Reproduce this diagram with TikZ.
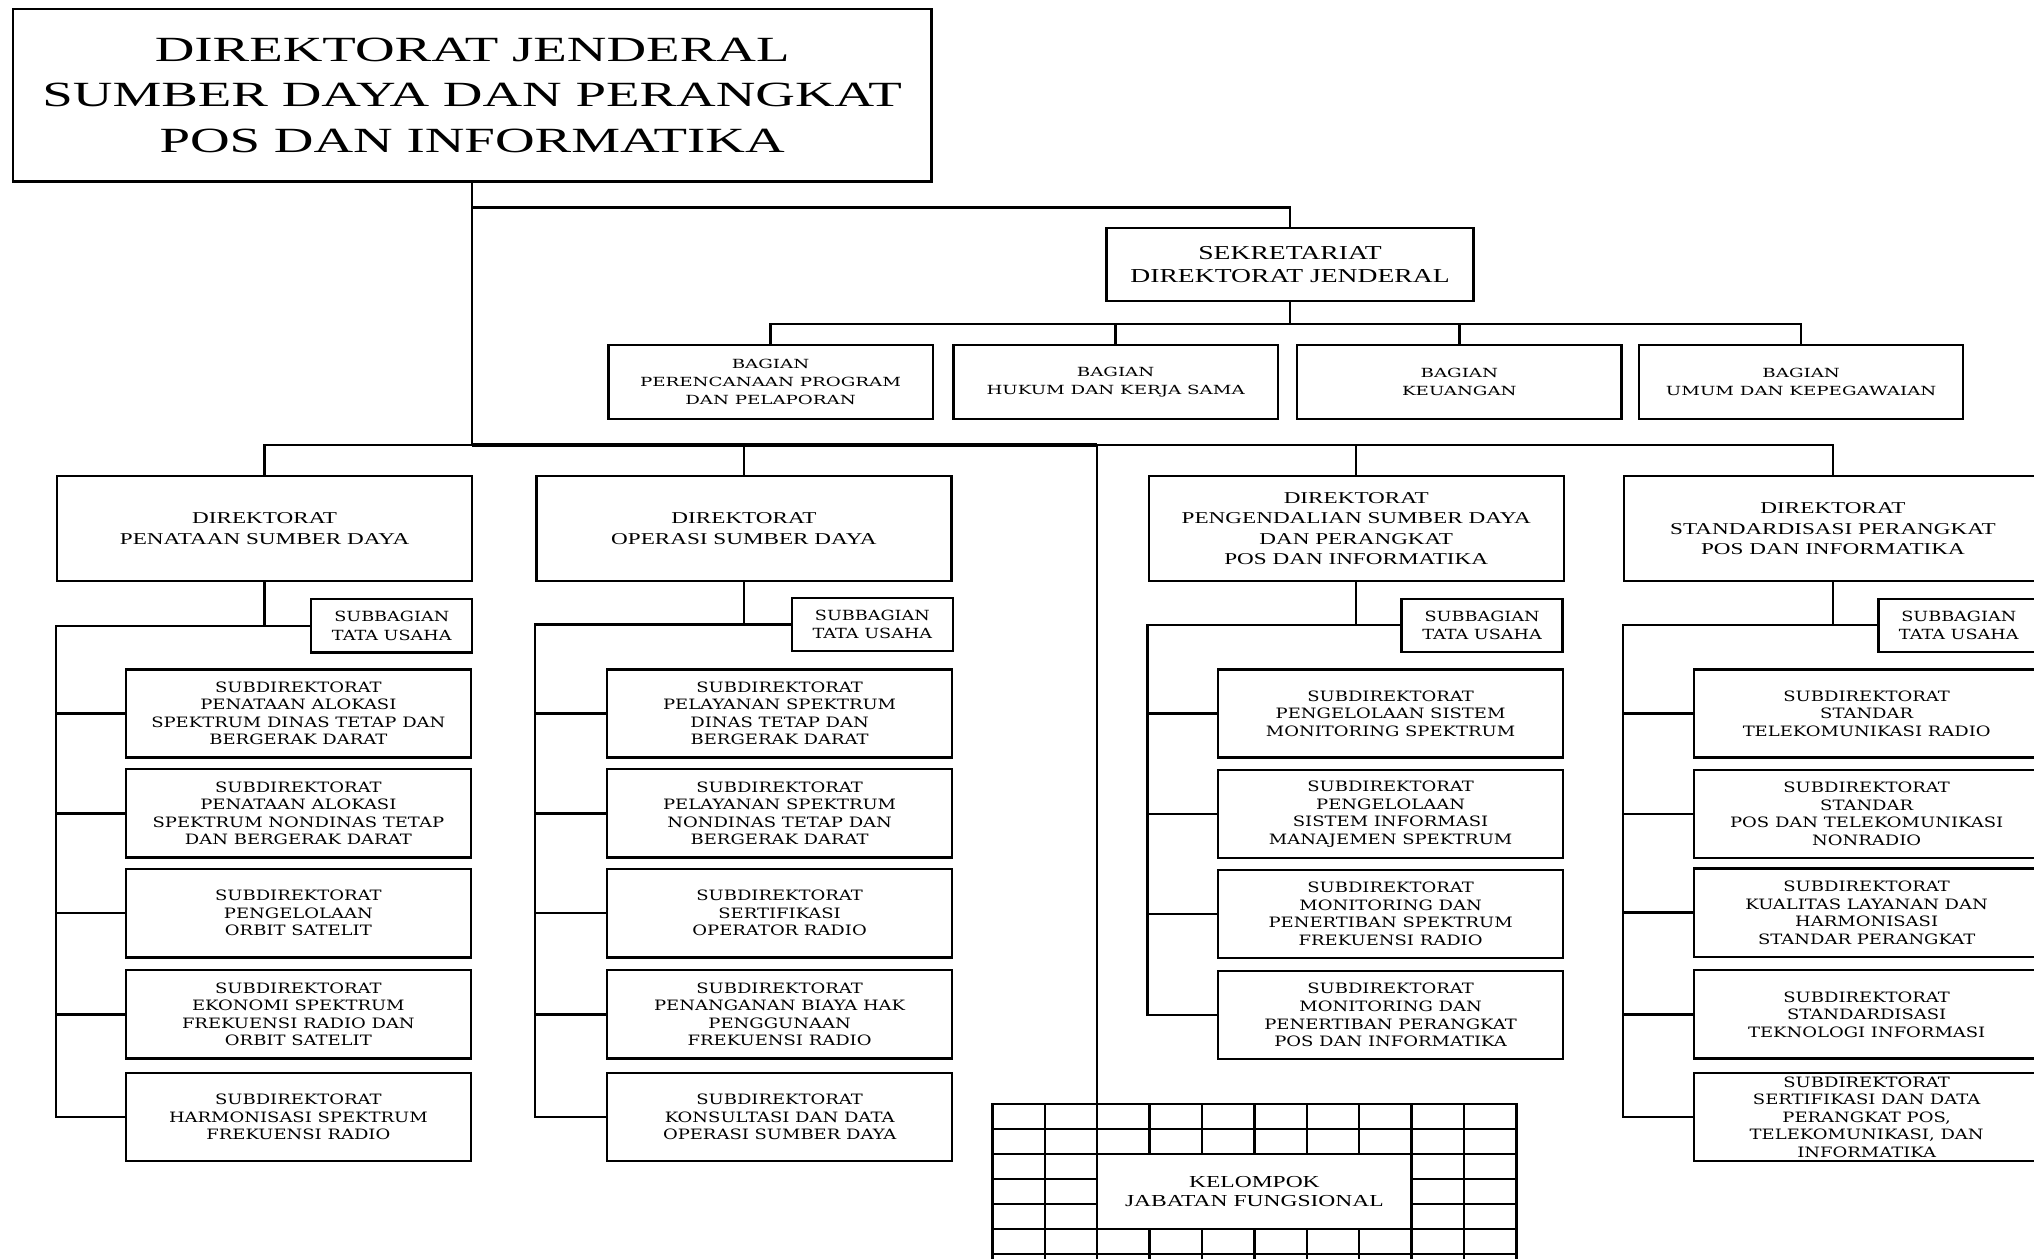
\documentclass[tikz,border=0pt]{standalone}
\usepackage{fontspec}
\newfontfamily\ftitle[FakeStretch=1.4]{Liberation Serif}
\newfontfamily\fbig[FakeStretch=1.55]{Liberation Serif}
\newfontfamily\fsmall[FakeStretch=1.26]{DejaVu Serif}
\newfontfamily\fbag[FakeStretch=1.45]{DejaVu Serif}
\tikzset{
  orgbox/.style={draw, line width=1.8pt, inner sep=0pt, align=center, fill=white},
  conn/.style={line width=1.8pt},
  busthick/.style={line width=3pt},
  gridl/.style={line width=1.8pt},
  tTitle/.style={font=\fbig\fontsize{27.3}{35}\selectfont},
  tSek/.style={font=\ftitle\fontsize{15.2}{18.2}\selectfont},
  tDir/.style={font=\ftitle\fontsize{12.75}{15.5}\selectfont},
  tKel/.style={font=\ftitle\fontsize{12.95}{15}\selectfont},
  tBag/.style={font=\fbag\fontsize{9.7}{13.8}\selectfont},
  tSub/.style={font=\fsmall\fontsize{11}{13.5}\selectfont},
  tSbg/.style={font=\fsmall\fontsize{10.8}{14}\selectfont},
  bagbox/.style={orgbox, tBag, minimum width=250, minimum height=57},
  dirbox/.style={orgbox, tDir, minimum width=320, minimum height=81},
  sbgbox/.style={orgbox, tSbg, minimum width=124, minimum height=41},
  subbox/.style={orgbox, tSub, minimum width=266, minimum height=68},
}
\begin{document}
\begin{tikzpicture}[x=1pt, y=-1pt]
\useasboundingbox (0,0) rectangle (1568,970);
\begin{scope}
\clip (0,0) rectangle (1568,970);

% ---- top level
\node[orgbox, tTitle, minimum width=708, minimum height=133] (T) at (364,73.5)
  {DIREKTORAT JENDERAL\\SUMBER DAYA DAN PERANGKAT\\POS DAN INFORMATIKA};
\node[orgbox, tSek, minimum width=283, minimum height=56] (S) at (994.5,204)
  {SEKRETARIAT\\DIREKTORAT JENDERAL};

% ---- bagian
\node[bagbox] (bag1) at (594,294.5) {BAGIAN\\PERENCANAAN PROGRAM\\DAN PELAPORAN};
\node[bagbox] (bag2) at (860,294.5) {BAGIAN\\HUKUM DAN KERJA SAMA};
\node[bagbox] (bag3) at (1125,294.5) {BAGIAN\\KEUANGAN};
\node[bagbox] (bag4) at (1388.5,294.5) {BAGIAN\\UMUM DAN KEPEGAWAIAN};

% ---- direktorat
\node[dirbox] (d1) at (204,407.5) {DIREKTORAT\\PENATAAN SUMBER DAYA};
\node[dirbox] (d2) at (573.5,407.5) {DIREKTORAT\\OPERASI SUMBER DAYA};
\node[dirbox] (d3) at (1045.5,407.5) {DIREKTORAT\\PENGENDALIAN SUMBER DAYA\\DAN PERANGKAT\\POS DAN INFORMATIKA};
\node[dirbox, minimum width=322] (d4) at (1413,407.5) {DIREKTORAT\\STANDARDISASI PERANGKAT\\POS DAN INFORMATIKA};

% ---- subbagian
\node[sbgbox] (sb1) at (302,482.5) {SUBBAGIAN\\TATA USAHA};
\node[sbgbox] (sb2) at (672.5,481.5) {SUBBAGIAN\\TATA USAHA};
\node[sbgbox] (sb3) at (1142.5,482) {SUBBAGIAN\\TATA USAHA};
\node[sbgbox] (sb4) at (1510,482) {SUBBAGIAN\\TATA USAHA};

% ---- subdirektorat column 1
\node[subbox] (s11) at (230,550) {SUBDIREKTORAT\\PENATAAN ALOKASI\\SPEKTRUM DINAS TETAP DAN\\BERGERAK DARAT};
\node[subbox] (s12) at (230,627) {SUBDIREKTORAT\\PENATAAN ALOKASI\\SPEKTRUM NONDINAS TETAP\\DAN BERGERAK DARAT};
\node[subbox] (s13) at (230,704) {SUBDIREKTORAT\\PENGELOLAAN\\ORBIT SATELIT};
\node[subbox] (s14) at (230,782) {SUBDIREKTORAT\\EKONOMI SPEKTRUM\\FREKUENSI RADIO DAN\\ORBIT SATELIT};
\node[subbox] (s15) at (230,861) {SUBDIREKTORAT\\HARMONISASI SPEKTRUM\\FREKUENSI RADIO};

% ---- column 2
\node[subbox] (s21) at (601,550) {SUBDIREKTORAT\\PELAYANAN SPEKTRUM\\DINAS TETAP DAN\\BERGERAK DARAT};
\node[subbox] (s22) at (601,627) {SUBDIREKTORAT\\PELAYANAN SPEKTRUM\\NONDINAS TETAP DAN\\BERGERAK DARAT};
\node[subbox] (s23) at (601,704) {SUBDIREKTORAT\\SERTIFIKASI\\OPERATOR RADIO};
\node[subbox] (s24) at (601,782) {SUBDIREKTORAT\\PENANGANAN BIAYA HAK\\PENGGUNAAN\\FREKUENSI RADIO};
\node[subbox] (s25) at (601,861) {SUBDIREKTORAT\\KONSULTASI DAN DATA\\OPERASI SUMBER DAYA};

% ---- column 3
\node[subbox] (s31) at (1072,550) {SUBDIREKTORAT\\PENGELOLAAN SISTEM\\MONITORING SPEKTRUM};
\node[subbox] (s32) at (1072,627.5) {SUBDIREKTORAT\\PENGELOLAAN\\SISTEM INFORMASI\\MANAJEMEN SPEKTRUM};
\node[subbox] (s33) at (1072,704.5) {SUBDIREKTORAT\\MONITORING DAN\\PENERTIBAN SPEKTRUM\\FREKUENSI RADIO};
\node[subbox] (s34) at (1072,782.5) {SUBDIREKTORAT\\MONITORING DAN\\PENERTIBAN PERANGKAT\\POS DAN INFORMATIKA};

% ---- column 4
\node[subbox] (s41) at (1439,550) {SUBDIREKTORAT\\STANDAR\\TELEKOMUNIKASI RADIO};
\node[subbox] (s42) at (1439,627.5) {SUBDIREKTORAT\\STANDAR\\POS DAN TELEKOMUNIKASI\\NONRADIO};
\node[subbox] (s43) at (1439,703.5) {SUBDIREKTORAT\\KUALITAS LAYANAN DAN\\HARMONISASI\\STANDAR PERANGKAT};
\node[subbox] (s44) at (1439,782) {SUBDIREKTORAT\\STANDARDISASI\\TEKNOLOGI INFORMASI};
\node[subbox] (s45) at (1439,861) {SUBDIREKTORAT\\SERTIFIKASI DAN DATA\\PERANGKAT POS,\\TELEKOMUNIKASI, DAN\\INFORMATIKA};

% ---- kelompok jabatan fungsional (grid)
\node[draw, gridl, inner sep=0pt, minimum width=404, minimum height=139] (grid) at (967,920.5) {};
\foreach \k in {1,2,5,6}
  \draw[gridl] (765,{851+19.3*\k}) -- (1169,{851+19.3*\k});
\foreach \k in {3,4} {
  \draw[gridl] (765,{851+19.3*\k}) -- (845.8,{851+19.3*\k});
  \draw[gridl] (1088.2,{851+19.3*\k}) -- (1169,{851+19.3*\k});
}
\foreach \c in {1,2,8,9}
  \draw[gridl] ({765+40.4*\c},851) -- ({765+40.4*\c},990);
\foreach \c in {3,...,7} {
  \draw[gridl] ({765+40.4*\c},851) -- ({765+40.4*\c},889.6);
  \draw[gridl] ({765+40.4*\c},947.5) -- ({765+40.4*\c},990);
}
\node[tKel, align=center, inner sep=0pt] (kel) at (967,918.5) {KELOMPOK\\JABATAN FUNGSIONAL};

% ---- connectors
\coordinate (js) at (0,160);
\coordinate (jb) at (0,250);
\coordinate (jd) at (0,343);
\coordinate (kx) at (845.8,0);

\draw[conn] (T.south) -- (T.south |- jd);
\draw[conn] (T.south |- js) -| (S.north);
\draw[conn] (S.south) -- (S.south |- jb);
\draw[conn] (bag1.north) |- (bag4.north |- jb) -- (bag4.north);
\draw[conn] (bag2.north) -- (bag2.north |- jb);
\draw[conn] (bag3.north) -- (bag3.north |- jb);

\draw[conn] (d1.north) |- (d4.north |- jd) -- (d4.north);
\draw[conn] (d2.north) -- (d2.north |- jd);
\draw[conn] (d3.north) -- (d3.north |- jd);
\draw[busthick] (T.south |- jd) -- (kx |- jd);
\draw[conn] (kx |- jd) -- (kx |- grid.north);

% directorate 1
\draw[conn] (d1.south) -- (d1.south |- sb1.west);
\draw[conn] (sb1.west) -- (d1.south west |- sb1.west) -- (d1.south west |- s15.west) -- (s15.west);
\foreach \i in {1,...,4} \draw[conn] (d1.south west |- s1\i.west) -- (s1\i.west);
% directorate 2
\draw[conn] (d2.south) -- (d2.south |- sb2.west);
\draw[conn] (sb2.west) -- (d2.south west |- sb2.west) -- (d2.south west |- s25.west) -- (s25.west);
\foreach \i in {1,...,4} \draw[conn] (d2.south west |- s2\i.west) -- (s2\i.west);
% directorate 3
\draw[conn] (d3.south) -- (d3.south |- sb3.west);
\draw[conn] (sb3.west) -- (d3.south west |- sb3.west) -- (d3.south west |- s34.west) -- (s34.west);
\foreach \i in {1,...,3} \draw[conn] (d3.south west |- s3\i.west) -- (s3\i.west);
% directorate 4
\draw[conn] (d4.south) -- (d4.south |- sb4.west);
\draw[conn] (sb4.west) -- (d4.south west |- sb4.west) -- (d4.south west |- s45.west) -- (s45.west);
\foreach \i in {1,...,4} \draw[conn] (d4.south west |- s4\i.west) -- (s4\i.west);
\end{scope}
\end{tikzpicture}
\end{document}
